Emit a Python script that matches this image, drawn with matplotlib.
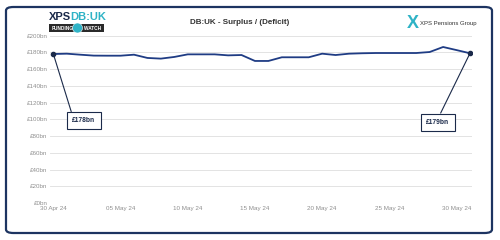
import matplotlib
matplotlib.use("Agg")
import matplotlib.pyplot as plt
import matplotlib.dates as mdates
from matplotlib.patches import FancyBboxPatch, Rectangle, Ellipse
import pandas as pd

# daily surplus, £bn (30 Apr 24 .. 31 May 24)
dates = pd.date_range("2024-04-30", "2024-05-31", freq="D")
surplus = [
    178.1, 178.5, 177.3, 176.2, 176.1, 176.1, 177.3, 173.4, 172.6, 174.6,
    177.7, 177.7, 177.7, 176.5, 176.9, 169.8, 169.8, 174.2, 174.2, 174.2,
    178.5, 176.9, 178.5, 179.0, 179.3, 179.3, 179.3, 179.3, 180.5, 186.5,
    182.8, 179.0,
]
yticks = list(range(0, 201, 20))
xticks = pd.to_datetime(["2024-04-30", "2024-05-05", "2024-05-10", "2024-05-15",
                         "2024-05-20", "2024-05-25", "2024-05-30"])
title = "DB:UK - Surplus / (Deficit)"

navy = "#1f3c84"
dark = "#1b2a4a"
teal = "#2fb3c6"
grey = "#8f8f8f"

plt.rcParams["font.family"] = ["Liberation Sans", "DejaVu Sans"]

fig = plt.figure(figsize=(5, 2.4), dpi=100)
fig.patch.set_facecolor("white")

# rounded frame
frame = FancyBboxPatch((6 / 500, 7 / 240), 486 / 500, 226 / 240,
                       boxstyle="round,pad=0,rounding_size=0.015",
                       transform=fig.transFigure, facecolor="none",
                       edgecolor="#1d3461", linewidth=1.6, zorder=-5)
fig.patches.append(frame)

ax = fig.add_axes([50 / 500, 1 - 203 / 240, 422 / 500, (203 - 35.7) / 240])
ax.set_facecolor("none")
ax.plot(dates, surplus, color=navy, linewidth=1.3, zorder=3)
ax.plot([dates[0], dates[-1]], [surplus[0], surplus[-1]], "o", color=dark,
        markersize=3, zorder=4)

x0 = mdates.date2num(dates[0])
ax.set_xlim(x0 - 0.25, x0 + 31.15)
ax.set_ylim(0, 200)
ax.set_yticks(yticks)
ax.set_yticklabels([f"£{v}bn" for v in yticks])
ax.set_xticks(xticks)
ax.set_xticklabels([d.strftime("%d %b %y") for d in xticks])
ax.tick_params(length=0, labelsize=4.5, labelcolor=grey, pad=2)
ax.grid(axis="y", color="#e3e3e3", linewidth=0.7)
for s in ax.spines.values():
    s.set_visible(False)

box = dict(boxstyle="square,pad=0.75", facecolor="white", edgecolor=dark, linewidth=0.8)
ax.annotate(f"£{surplus[0]:.0f}bn", xy=(dates[0], surplus[0]),
            xytext=(84, 240 - 120.5), textcoords="figure pixels",
            ha="center", va="center", fontsize=4.8, fontweight="bold", color=dark,
            bbox=box, arrowprops=dict(arrowstyle="-", color=dark, lw=0.8,
                                      relpos=(0.02, 1), shrinkA=0, shrinkB=0))
ax.annotate(f"£{surplus[-1]:.0f}bn", xy=(dates[-1], surplus[-1]),
            xytext=(438, 240 - 122), textcoords="figure pixels",
            ha="center", va="center", fontsize=4.8, fontweight="bold", color=dark,
            bbox=box, arrowprops=dict(arrowstyle="-", color=dark, lw=0.8,
                                      relpos=(0.5, 1), shrinkA=0, shrinkB=0))

fig.text(240 / 500, 1 - 22 / 240, title, ha="center", va="center",
         fontsize=5.8, fontweight="bold", color="#333333")

# left logo
fig.text(71 / 500, 1 - 17 / 240, "XPS", ha="right", va="center",
         fontsize=8, fontweight="bold", color=dark)
fig.text(70 / 500, 1 - 17 / 240, "DB:UK", ha="left", va="center",
         fontsize=8, fontweight="bold", color=teal)
fig.patches.append(Rectangle((49 / 500, 1 - 32 / 240), 55 / 500, 8 / 240,
                             transform=fig.transFigure, facecolor="#2a2a2a",
                             edgecolor="none"))
fig.patches.append(Ellipse((77.5 / 500, 1 - 28 / 240), 10 / 500, 10 / 240,
                           transform=fig.transFigure, facecolor=teal,
                           edgecolor="white", linewidth=0.4, zorder=3))
fig.text(63 / 500, 1 - 28 / 240, "FUNDING", ha="center", va="center",
         fontsize=3.4, fontweight="bold", color="white")
fig.text(93 / 500, 1 - 28 / 240, "WATCH", ha="center", va="center",
         fontsize=3.4, fontweight="bold", color="white")

# right logo
fig.text(413 / 500, 1 - 24 / 240, "X", ha="center", va="center",
         fontsize=13, fontweight="bold", color=teal)
fig.text(420 / 500, 1 - 24 / 240, "XPS Pensions Group", ha="left",
         va="center", fontsize=4.3, color="#333333")

fig.savefig("out.png", dpi=100)
